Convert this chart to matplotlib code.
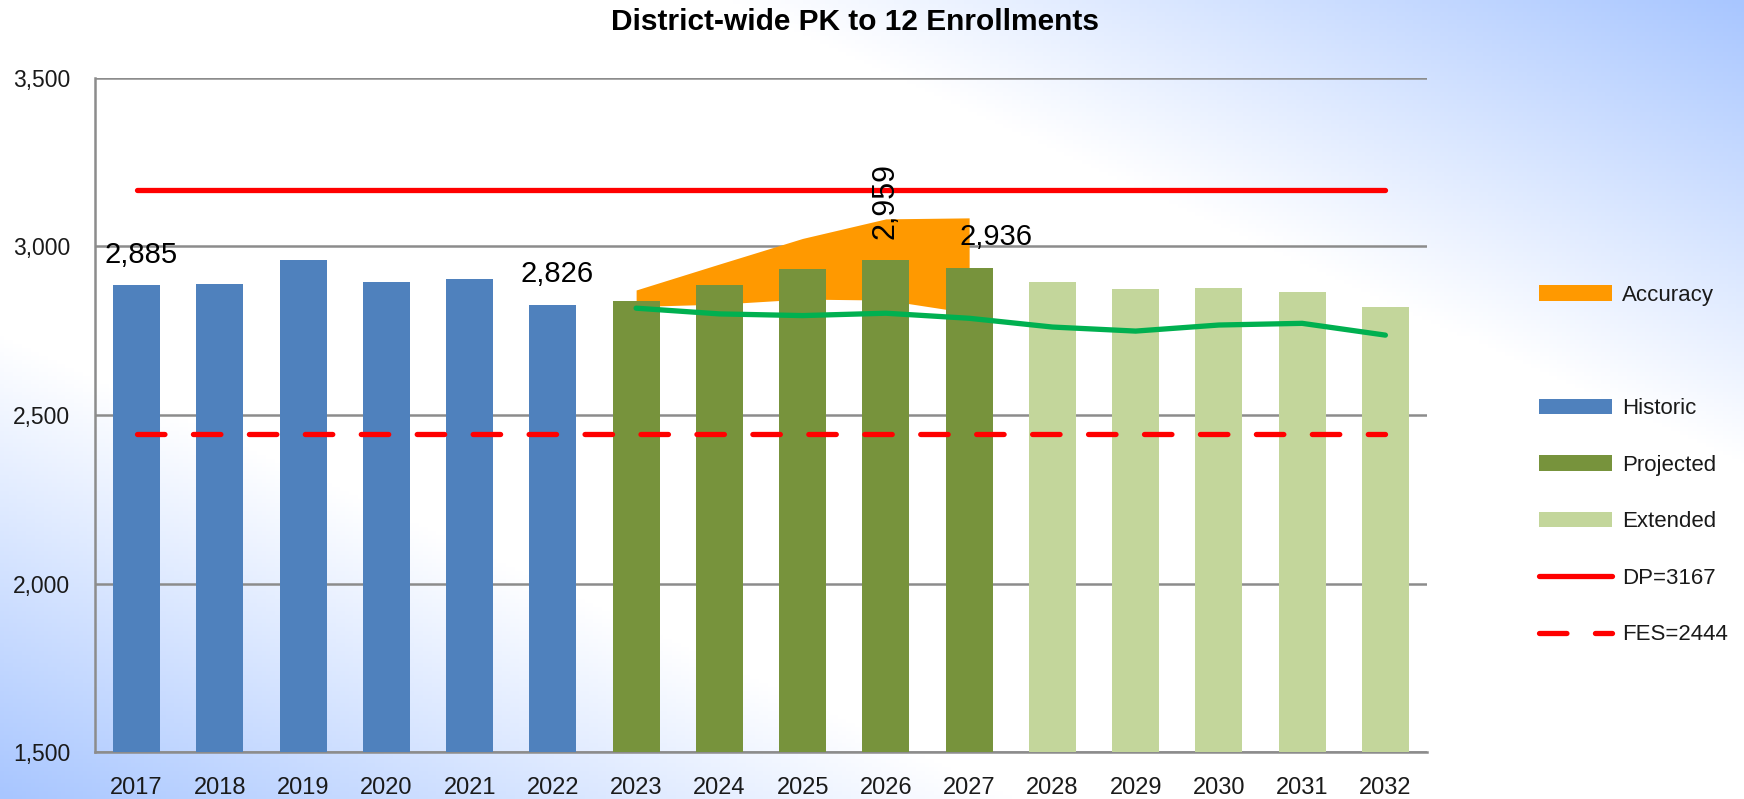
import matplotlib
matplotlib.use("Agg")
import matplotlib.pyplot as plt
import numpy as np
from matplotlib.patches import Patch
from matplotlib.lines import Line2D
from matplotlib.ticker import FuncFormatter

plt.rcParams['font.family'] = ['Liberation Sans', 'DejaVu Sans']

# data
years = [str(y) for y in range(2017, 2033)]
historic = [2885, 2890, 2959, 2895, 2903, 2826]
projected = [2839, 2887, 2933, 2959, 2936]
extended = [2896, 2874, 2878, 2866, 2819]
trend = [2817, 2800, 2795, 2802, 2787, 2761, 2749, 2767, 2772, 2737]   # green line, 2023-2032
acc_upper = [2871, 2948, 3024, 3082, 3085]   # 2023-2027
acc_lower = [2822, 2829, 2844, 2841, 2803]
dp = 3167
fes = 2444
labelled = {0: "2,885", 5: "2,826", 9: "2,959", 10: "2,936"}

c_hist = '#4f81bd'
c_proj = '#77933c'
c_ext = '#c3d69b'
c_acc = '#ff9900'
c_red = '#ff0000'
c_green = '#00b050'
c_grid = '#8c8c8c'

fig = plt.figure(figsize=(17.44, 7.99), dpi=100)

# background gradient (light blue corners, white band along the diagonal)
bg = fig.add_axes([0, 0, 1, 1], zorder=-10)
u, v = np.meshgrid(np.linspace(0, 1, 400), np.linspace(0, 1, 200))
s = np.abs(u - v)
t = np.clip((s - 0.42) / 0.58, 0, 1)[..., None]
white = np.array([1.0, 1.0, 1.0])
blue = np.array([168, 198, 255]) / 255.0
bg.imshow(white * (1 - t) + blue * t, aspect='auto', extent=[0, 1, 0, 1], origin='upper')
bg.axis('off')

ax = fig.add_axes([95 / 1744, 1 - 752 / 799, (1427 - 95) / 1744, (752 - 78) / 799])
ax.patch.set_alpha(0)

x = np.arange(len(years))
nh, npj = len(historic), len(projected)
xh = x[:nh]
xp = x[nh:nh + npj]
xe = x[nh + npj:]
w = 0.565

# accuracy band
ax.fill_between(xp, acc_lower, acc_upper, color=c_acc, linewidth=0, zorder=2)

ax.bar(xh, historic, width=w, color=c_hist, zorder=3)
ax.bar(xp, projected, width=w, color=c_proj, zorder=3)
ax.bar(xe, extended, width=w, color=c_ext, zorder=3)

ax.plot(x[nh:], trend, color=c_green, lw=3.8, solid_capstyle='round', solid_joinstyle='round', zorder=4)

ax.plot(x, [dp] * len(x), color=c_red, lw=3.8, solid_capstyle='round', zorder=5)
ax.plot(x, [fes] * len(x), color=c_red, lw=3.8, dashes=(5.2, 5.4), dash_capstyle='round', zorder=5)

allvals = historic + projected + extended
for i, txt in labelled.items():
    if i == 9:
        ax.annotate(txt, (i, allvals[i]), xytext=(0, 15), textcoords='offset points',
                    ha='center', va='bottom', rotation=90, fontsize=22, zorder=6)
    elif i == 10:
        ax.annotate(txt, (i, allvals[i]), xytext=(19, 12), textcoords='offset points',
                    ha='center', va='bottom', fontsize=21, zorder=6)
    else:
        ax.annotate(txt, (i, allvals[i]), xytext=(3, 12), textcoords='offset points',
                    ha='center', va='bottom', fontsize=21, zorder=6)

ax.set_xlim(-0.5, len(years) - 0.5)
ax.set_ylim(1500, 3500)
ax.set_yticks([1500, 2000, 2500, 3000, 3500])
ax.yaxis.set_major_formatter(FuncFormatter(lambda val, p: f"{int(val):,}"))
ax.set_xticks(x)
ax.set_xticklabels(years)
ax.tick_params(length=0, labelsize=17, colors='#1a1a1a', pad=18)
ax.tick_params(axis='y', labelsize=16.5)
ax.grid(axis='y', color=c_grid, lw=1.8, zorder=1)
ax.set_axisbelow(True)
for side in ['top', 'right']:
    ax.spines[side].set_visible(False)
for side in ['left', 'bottom']:
    ax.spines[side].set_color(c_grid)
    ax.spines[side].set_linewidth(1.8)

fig.text(855 / 1744, 1 - 22 / 799, "District-wide PK to 12 Enrollments", ha='center', va='center',
         fontsize=21.5, fontweight='bold')

handles = [
    Patch(facecolor=c_acc, label='Accuracy'),
    Patch(facecolor='none', edgecolor='none', label=' '),
    Patch(facecolor=c_hist, label='Historic'),
    Patch(facecolor=c_proj, label='Projected'),
    Patch(facecolor=c_ext, label='Extended'),
    Line2D([], [], color=c_red, lw=3.8, solid_capstyle='round', label='DP=3167'),
    Line2D([], [], color=c_red, lw=3.8, dashes=(5.2, 5.4), dash_capstyle='round', label='FES=2444'),
]
fig.legend(handles=handles, loc='upper left', bbox_to_anchor=(1539 / 1744, 1 - 285 / 799),
           frameon=False, fontsize=16, handlelength=3.3, handletextpad=0.45,
           labelspacing=1.6, borderpad=0, borderaxespad=0, labelcolor='#1a1a1a')

fig.savefig("out.png", dpi=100)
